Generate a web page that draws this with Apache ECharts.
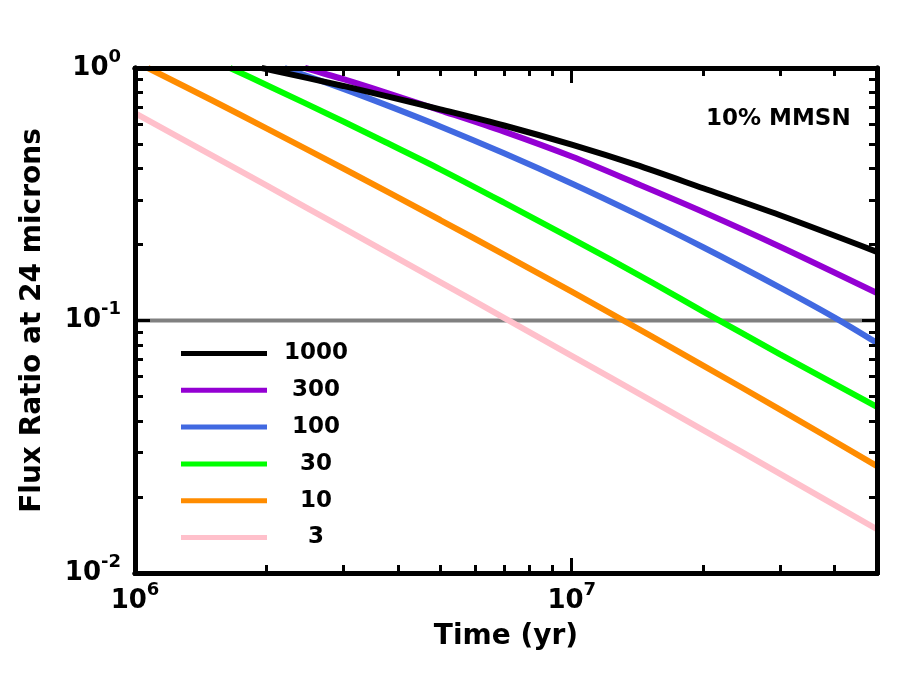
<!DOCTYPE html>
<html>
<head>
<meta charset="utf-8">
<script src="https://cdn.jsdelivr.net/npm/echarts@6.0.0/dist/echarts.min.js"></script>
<style>
  html, body { margin: 0; padding: 0; background: #fff; }
  #chart { width: 900px; height: 675px; }
</style>
</head>
<body>
<div id="chart"></div>
<script>
// ========== data ==========
const FONT = 'DejaVu Sans';

const t1000 = [1.95e6, 3e6, 3.74e6, 5e6, 7e6, 1e7, 1.4e7, 2e7, 3e7, 5e7];
const f1000 = [1.0, 0.849, 0.776, 0.686, 0.592, 0.497, 0.414, 0.334, 0.261, 0.187];

const t300 = [2.45e6, 3e6, 3.74e6, 5e6, 7e6, 1e7, 1.4e7, 2e7, 3e7, 5e7];
const f300 = [1.0, 0.903, 0.801, 0.680, 0.560, 0.446, 0.350, 0.269, 0.196, 0.1285];

const t100 = [2.2e6, 3e6, 3.74e6, 5e6, 7e6, 1e7, 1.4e7, 2e7, 3e7, 4e7, 5e7];
const f100 = [1.0, 0.827, 0.716, 0.587, 0.4595, 0.349, 0.265, 0.195, 0.135, 0.1027, 0.0815];

const t30 = [1.65e6, 2e6, 3e6, 3.74e6, 5e6, 7e6, 1e7, 1.5e7, 2e7, 3e7, 5e7];
const f30 = [1.0, 0.857, 0.614, 0.509, 0.397, 0.293, 0.211, 0.144, 0.1085, 0.0735, 0.0455];

const t10 = [1.07e6, 1.5e6, 2e6, 3e6, 5e6, 7e6, 1e7, 1.5e7, 2e7, 3e7, 5e7];
const f10 = [1.0, 0.745, 0.577, 0.400, 0.250, 0.1824, 0.130, 0.0879, 0.0663, 0.0444, 0.0265];

const t3 = [1e6, 1.5e6, 2e6, 3e6, 5e6, 7e6, 1e7, 1.5e7, 2e7, 3e7, 5e7];
const f3 = [0.663, 0.451, 0.343, 0.232, 0.142, 0.1025, 0.0725, 0.0488, 0.0368, 0.0247, 0.0149];

const names = ['1000', '300', '100', '30', '10', '3'];
const colors = ['#000000', '#9400d3', '#4169e1', '#00ff00', '#ff8c00', '#ffc0cb'];

const xRange = [1e6, 5e7];
const yRange = [0.01, 1];
const threshold = 0.1;

// tick values
const xMajor = [1e6, 1e7];
const xMinor = [2e6, 3e6, 4e6, 5e6, 6e6, 7e6, 8e6, 9e6, 2e7, 3e7, 4e7];
const yMajor = [0.01, 0.1, 1];
const yMinor = [0.02, 0.03, 0.04, 0.05, 0.06, 0.07, 0.08, 0.09,
                0.2, 0.3, 0.4, 0.5, 0.6, 0.7, 0.8, 0.9];

// ========== chart ==========
const chart = echarts.init(document.getElementById('chart'));

const pow10Label = (value) => {
    const e = Math.log10(value);
    if (Math.abs(e - Math.round(e)) > 1e-6) return '';
    return '{b|10}{s|' + Math.round(e) + '}';
};

const labelRich = {
    b: { fontFamily: FONT, fontWeight: 'bold', fontSize: 26, lineHeight: 40, color: '#000' },
    s: { fontFamily: FONT, fontWeight: 'bold', fontSize: 18, lineHeight: 18, color: '#000', verticalAlign: 'top' }
};

const frameLine = { show: true, onZero: false, lineStyle: { color: '#000', width: 5 } };

const xAxisBase = (pos, tickVals, len, withLabel) => ({
    type: 'log',
    position: pos,
    min: xRange[0],
    max: xRange[1],
    z: 5,
    axisLine: frameLine,
    axisTick: { show: true, inside: true, length: len, customValues: tickVals,
                lineStyle: { color: '#000', width: 3 } },
    axisLabel: withLabel ? { show: true, customValues: xMajor, formatter: pow10Label,
                             margin: 8, rich: labelRich } : { show: false },
    splitLine: { show: false }
});

const yAxisBase = (pos, tickVals, len, withLabel) => ({
    type: 'log',
    position: pos,
    min: yRange[0],
    max: yRange[1],
    z: 5,
    axisLine: frameLine,
    axisTick: { show: true, inside: true, length: len, customValues: tickVals,
                lineStyle: { color: '#000', width: 3 } },
    axisLabel: withLabel ? { show: true, customValues: yMajor, formatter: pow10Label,
                             margin: 14, rich: labelRich } : { show: false },
    splitLine: { show: false }
});

const xMain = xAxisBase('bottom', xMajor, 15, true);
xMain.name = 'Time (yr)';
xMain.nameLocation = 'middle';
xMain.nameGap = 50;
xMain.nameTextStyle = { fontFamily: FONT, fontWeight: 'bold', fontSize: 28, color: '#000' };

const yMain = yAxisBase('left', yMajor, 15, true);
yMain.name = 'Flux Ratio at 24 microns';
yMain.nameLocation = 'middle';
yMain.nameGap = 88;
yMain.nameTextStyle = { fontFamily: FONT, fontWeight: 'bold', fontSize: 28, color: '#000' };

const seriesT = [t1000, t300, t100, t30, t10, t3];
const seriesF = [f1000, f300, f100, f30, f10, f3];

const lineSeries = names.map((n, i) => ({
    name: n,
    type: 'line',
    xAxisIndex: 0,
    yAxisIndex: 0,
    data: seriesT[i].map((t, j) => [t, seriesF[i][j]]),
    showSymbol: false,
    symbol: 'none',
    smooth: 0.3,
    clip: true,
    z: 3 + (names.length - i) * 0.01,
    lineStyle: { color: colors[i], width: 6 },
    itemStyle: { color: colors[i] }
}));

chart.setOption({
    animation: false,
    backgroundColor: '#fff',
    grid: { left: 135, right: 23, top: 68, bottom: 102, containLabel: false },
    title: {
        text: '10% MMSN',
        left: 701,
        top: 103,
        textStyle: { fontFamily: FONT, fontWeight: 'bold', fontSize: 23, color: '#000' }
    },
    legend: {
        data: names,
        orient: 'vertical',
        left: 176,
        top: 337,
        icon: 'rect',
        itemWidth: 86,
        itemHeight: 5,
        itemGap: 13.8,
        formatter: (name) => '{n|' + name + '}',
        textStyle: {
            rich: {
                n: { fontFamily: FONT, fontWeight: 'bold', fontSize: 23, lineHeight: 24,
                     width: 88, align: 'center', color: '#000' }
            }
        }
    },
    xAxis: [
        xMain,
        xAxisBase('top', xMajor, 15, false),
        xAxisBase('bottom', xMinor, 8, false),
        xAxisBase('top', xMinor, 8, false)
    ],
    yAxis: [
        yMain,
        yAxisBase('right', yMajor, 15, false),
        yAxisBase('left', yMinor, 8, false),
        yAxisBase('right', yMinor, 8, false)
    ],
    series: [
        {
            name: 'threshold',
            type: 'line',
            data: [[xRange[0], threshold], [xRange[1], threshold]],
            showSymbol: false,
            symbol: 'none',
            z: 2,
            lineStyle: { color: '#808080', width: 4 }
        }
    ].concat(lineSeries)
});
</script>
</body>
</html>
